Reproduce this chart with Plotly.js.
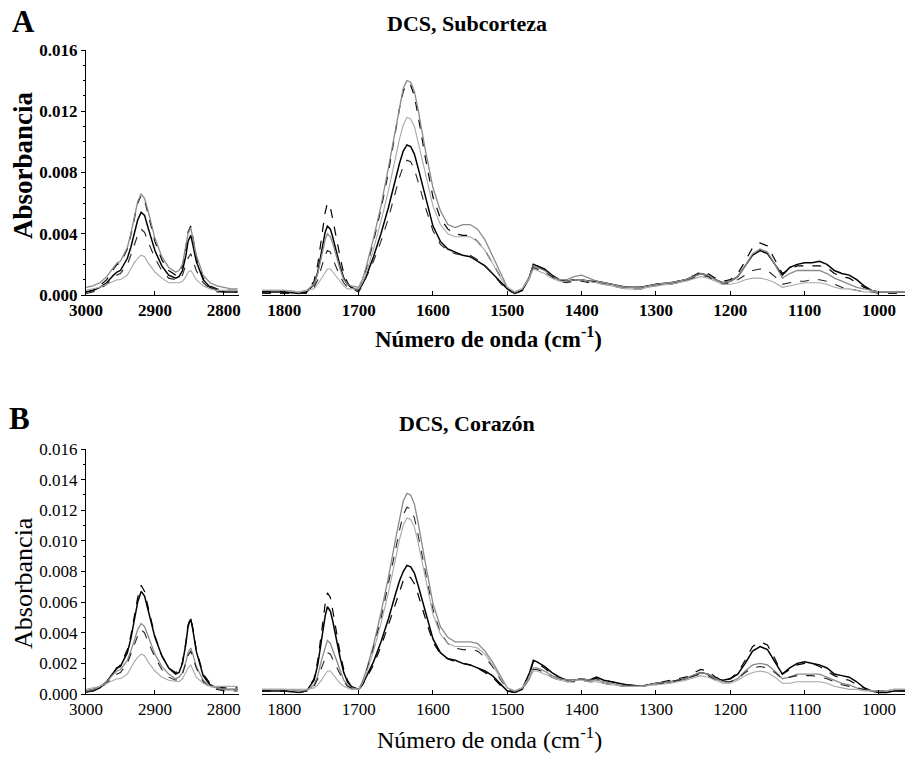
<!DOCTYPE html>
<html>
<head>
<meta charset="utf-8">
<script src="https://cdn.plot.ly/plotly-3.0.1.min.js"></script>
<style>html,body{margin:0;padding:0;background:#fff}#chart{width:905px;height:760px}</style>
</head>
<body>
<div id="chart"></div>
<script>
// Wavenumber grids (cm-1)
const xLeft = [3000,2990,2980,2970,2960,2955,2950,2940,2935,2930,2925,2920,2915,2910,2900,2890,2880,2870,2865,2860,2855,2852,2848,2845,2840,2830,2820,2810,2800,2790,2780];
const xRight = [1830,1800,1780,1770,1760,1755,1750,1745,1742,1738,1735,1730,1725,1720,1715,1710,1700,1695,1690,1680,1670,1660,1650,1645,1640,1635,1630,1625,1620,1610,1600,1590,1580,1570,1560,1550,1540,1530,1520,1510,1500,1490,1480,1470,1465,1460,1450,1440,1430,1420,1410,1400,1390,1380,1370,1360,1340,1320,1300,1280,1260,1240,1230,1220,1210,1200,1190,1180,1170,1160,1150,1140,1130,1120,1110,1100,1090,1080,1070,1060,1050,1040,1030,1020,1010,1000,990,980,965];

// Panel A (DCS, Subcorteza) - C-H stretching region
const aL1 = [.0002,.0003,.0005,.0008,.0013,.0015,.0016,.0024,.0031,.0040,.0049,.0054,.0052,.0044,.0029,.0019,.0013,.0011,.0012,.0016,.0026,.0035,.0039,.0033,.0022,.0010,.0005,.0003,.0002,.0002,.0002];
const aL2 = [.0002,.0003,.0006,.0010,.0017,.0020,.0021,.0030,.0039,.0050,.0060,.0065,.0062,.0053,.0035,.0023,.0016,.0013,.0014,.0019,.0031,.0041,.0045,.0038,.0025,.0011,.0006,.0004,.0003,.0003,.0003];
const aL3 = [.0005,.0006,.0008,.0012,.0018,.0021,.0022,.0031,.0040,.0051,.0061,.0066,.0063,.0055,.0037,.0025,.0018,.0015,.0016,.0020,.0031,.0040,.0044,.0038,.0026,.0013,.0008,.0006,.0005,.0004,.0004];
const aL4 = [.0001,.0002,.0004,.0007,.0011,.0013,.0014,.0020,.0026,.0033,.0039,.0043,.0041,.0035,.0024,.0016,.0011,.0010,.0010,.0013,.0019,.0024,.0027,.0023,.0016,.0008,.0004,.0002,.0002,.0002,.0002];
const aL5 = [.0003,.0004,.0005,.0007,.0009,.0010,.0010,.0013,.0017,.0021,.0024,.0026,.0025,.0021,.0015,.0011,.0008,.0008,.0008,.0009,.0012,.0015,.0016,.0014,.0010,.0006,.0004,.0003,.0003,.0003,.0003];

// Panel A - fingerprint region
const aR1 = [.0002,.0002,.0001,.0002,.0007, .0015,.0028,.0041,.0045,.0043, .0038,.0028,.0019,.0011,.0007, .0005,.0003,.0007,.0012,.0025, .0040,.0057,.0077,.0086,.0094, .0098,.0097,.0092,.0083,.0063, .0045,.0035,.0030,.0028,.0026, .0025,.0022,.0019,.0014,.0009, .0004,.0001,.0003,.0012,.0020, .0019,.0017,.0013,.0010,.0009, .0010,.0010,.0009,.0009,.0008, .0007,.0005,.0005,.0007,.0008, .0010,.0014,.0013,.0010,.0008, .0009,.0012,.0019,.0026,.0029, .0027,.0020,.0013,.0018,.0020, .0021,.0021,.0022,.0020,.0016, .0014,.0013,.0010,.0006,.0003, .0002,.0002,.0002,.0002];
const aR2 = [.0002,.0002,.0001,.0002,.0009, .0020,.0037,.0054,.0060,.0057, .0050,.0037,.0025,.0014,.0008, .0005,.0003,.0009,.0017,.0035, .0056,.0080,.0108,.0122,.0133, .0138,.0137,.0130,.0117,.0089, .0064,.0050,.0043,.0040,.0039, .0039,.0035,.0029,.0021,.0012, .0004,.0001,.0003,.0012,.0020, .0019,.0016,.0012,.0010,.0009, .0010,.0010,.0009,.0008,.0008, .0007,.0005,.0005,.0007,.0008, .0010,.0015,.0014,.0011,.0009, .0010,.0014,.0022,.0031,.0034, .0032,.0023,.0014,.0017,.0019, .0019,.0019,.0019,.0018,.0014, .0012,.0011,.0008,.0005,.0003, .0002,.0002,.0002,.0002];
const aR3 = [.0003,.0003,.0002,.0003,.0007, .0014,.0025,.0036,.0040,.0038, .0034,.0025,.0017,.0010,.0007, .0006,.0005,.0010,.0018,.0037, .0058,.0083,.0110,.0124,.0135, .0140,.0139,.0133,.0121,.0094, .0070,.0055,.0046,.0044,.0046, .0046,.0043,.0036,.0026,.0015, .0005,.0002,.0004,.0012,.0019, .0018,.0016,.0012,.0010,.0010, .0012,.0013,.0011,.0009,.0008, .0007,.0005,.0005,.0007,.0008, .0010,.0014,.0013,.0010,.0008, .0009,.0012,.0019,.0027,.0030, .0028,.0020,.0011,.0014,.0016, .0016,.0016,.0016,.0014,.0011, .0009,.0007,.0005,.0004,.0003, .0002,.0002,.0002,.0002];
const aR4 = [.0001,.0001,.0001,.0001,.0005, .0010,.0018,.0026,.0029,.0028, .0024,.0018,.0012,.0008,.0005, .0004,.0002,.0006,.0011,.0022, .0035,.0050,.0068,.0077,.0084, .0088,.0087,.0082,.0074,.0057, .0042,.0033,.0029,.0027,.0026, .0026,.0023,.0019,.0014,.0008, .0003,.0001,.0003,.0011,.0018, .0017,.0015,.0012,.0009,.0008, .0009,.0009,.0008,.0008,.0007, .0006,.0004,.0004,.0006,.0007, .0009,.0013,.0012,.0009,.0007, .0008,.0010,.0013,.0016,.0017, .0016,.0012,.0007,.0008,.0009, .0009,.0010,.0010,.0009,.0007, .0005,.0004,.0003,.0002,.0002, .0001,.0001,.0001,.0001];
const aR5 = [.0003,.0003,.0002,.0003,.0004, .0007,.0011,.0015,.0017,.0017, .0015,.0012,.0009,.0006,.0004, .0004,.0004,.0008,.0014,.0030, .0048,.0068,.0091,.0102,.0111, .0116,.0115,.0110,.0100,.0078, .0058,.0046,.0040,.0038,.0038, .0038,.0035,.0029,.0021,.0012, .0005,.0002,.0004,.0011,.0017, .0016,.0014,.0011,.0009,.0009, .0010,.0010,.0009,.0008,.0007, .0006,.0004,.0004,.0006,.0007, .0009,.0012,.0011,.0009,.0007, .0007,.0008,.0010,.0011,.0011, .0010,.0008,.0005,.0006,.0007, .0008,.0008,.0008,.0007,.0005, .0004,.0004,.0003,.0002,.0002, .0002,.0002,.0002,.0002];

// Panel B (DCS, Corazon) - C-H stretching region
const bL1 = [.0002,.0002,.0004,.0008,.0014,.0017,.0018,.0027,.0036,.0047,.0060,.0067,.0064,.0055,.0037,.0025,.0017,.0013,.0014,.0020,.0033,.0044,.0049,.0042,.0028,.0012,.0006,.0004,.0003,.0003,.0003];
const bL2 = [.0002,.0003,.0005,.0008,.0014,.0017,.0019,.0029,.0038,.0050,.0063,.0071,.0067,.0057,.0038,.0025,.0017,.0014,.0015,.0021,.0034,.0045,.0050,.0043,.0029,.0013,.0007,.0005,.0004,.0004,.0004];
const bL3 = [.0002,.0003,.0005,.0008,.0013,.0015,.0016,.0022,.0028,.0035,.0042,.0046,.0044,.0038,.0026,.0018,.0013,.0010,.0011,.0014,.0021,.0027,.0030,.0026,.0018,.0009,.0005,.0004,.0003,.0003,.0003];
const bL4 = [.0001,.0002,.0004,.0007,.0011,.0013,.0014,.0020,.0026,.0032,.0038,.0042,.0040,.0034,.0024,.0016,.0011,.0009,.0010,.0013,.0020,.0025,.0028,.0024,.0017,.0008,.0004,.0003,.0002,.0002,.0002];
const bL5 = [.0003,.0004,.0005,.0007,.0009,.0010,.0010,.0013,.0017,.0021,.0024,.0026,.0025,.0021,.0015,.0011,.0009,.0008,.0008,.0010,.0014,.0017,.0019,.0016,.0011,.0007,.0005,.0005,.0005,.0005,.0005];

// Panel B - fingerprint region
const bR1 = [.0002,.0002,.0001,.0002,.0009, .0019,.0035,.0051,.0057,.0054, .0048,.0035,.0024,.0014,.0008, .0005,.0003,.0006,.0011,.0021, .0034,.0049,.0066,.0074,.0080, .0084,.0083,.0079,.0071,.0053, .0036,.0027,.0023,.0022,.0020, .0019,.0017,.0015,.0012,.0007, .0002,.0001,.0003,.0014,.0022, .0021,.0018,.0014,.0011,.0009, .0009,.0010,.0009,.0011,.0009, .0008,.0006,.0005,.0007,.0008, .0010,.0014,.0013,.0010,.0009, .0010,.0013,.0020,.0028,.0031, .0029,.0021,.0013,.0017,.0020, .0021,.0020,.0019,.0017,.0013, .0012,.0011,.0008,.0004,.0002, .0001,.0001,.0002,.0002];
const bR2 = [.0002,.0002,.0001,.0002,.0010, .0022,.0040,.0059,.0066,.0063, .0055,.0040,.0027,.0016,.0009, .0005,.0003,.0006,.0010,.0019, .0031,.0045,.0060,.0068,.0074, .0077,.0076,.0072,.0065,.0049, .0034,.0026,.0023,.0021,.0020, .0019,.0017,.0014,.0011,.0006, .0002,.0001,.0003,.0013,.0021, .0020,.0017,.0013,.0010,.0009, .0009,.0010,.0009,.0010,.0009, .0008,.0006,.0005,.0007,.0009, .0011,.0016,.0015,.0011,.0009, .0010,.0014,.0022,.0031,.0034, .0032,.0023,.0013,.0016,.0019, .0020,.0020,.0018,.0015,.0012, .0010,.0009,.0006,.0004,.0002, .0001,.0001,.0002,.0002];
const bR3 = [.0003,.0003,.0002,.0002,.0006, .0012,.0022,.0031,.0035,.0033, .0029,.0022,.0015,.0009,.0006, .0004,.0003,.0008,.0015,.0032, .0053,.0076,.0102,.0115,.0126, .0131,.0130,.0124,.0112,.0085, .0059,.0044,.0037,.0034,.0034, .0034,.0033,.0028,.0021,.0012, .0004,.0002,.0004,.0011,.0017, .0017,.0015,.0012,.0010,.0009, .0009,.0010,.0009,.0009,.0008, .0007,.0005,.0005,.0007,.0008, .0010,.0014,.0013,.0010,.0008, .0008,.0010,.0015,.0019,.0020, .0019,.0015,.0010,.0011,.0013, .0013,.0013,.0013,.0011,.0009, .0007,.0006,.0004,.0003,.0002, .0002,.0002,.0003,.0003];
const bR4 = [.0002,.0002,.0001,.0002,.0005, .0010,.0017,.0024,.0027,.0026, .0023,.0017,.0012,.0008,.0005, .0004,.0003,.0007,.0014,.0030, .0049,.0071,.0095,.0107,.0117, .0122,.0121,.0115,.0104,.0079, .0055,.0040,.0033,.0030,.0029, .0029,.0028,.0024,.0018,.0010, .0003,.0001,.0003,.0010,.0016, .0016,.0014,.0011,.0009,.0008, .0008,.0009,.0008,.0008,.0007, .0006,.0005,.0005,.0006,.0008, .0010,.0013,.0012,.0009,.0008, .0008,.0010,.0014,.0017,.0018, .0017,.0014,.0010,.0011,.0012, .0012,.0012,.0011,.0010,.0008, .0006,.0005,.0004,.0003,.0002, .0002,.0002,.0002,.0002];
const bR5 = [.0003,.0003,.0003,.0003,.0004, .0006,.0009,.0013,.0015,.0015, .0013,.0010,.0007,.0005,.0004, .0003,.0003,.0007,.0013,.0028, .0046,.0066,.0089,.0101,.0110, .0115,.0114,.0109,.0099,.0075, .0052,.0039,.0033,.0031,.0031, .0031,.0030,.0026,.0019,.0011, .0004,.0002,.0004,.0010,.0015, .0015,.0013,.0011,.0009,.0008, .0009,.0009,.0008,.0008,.0007, .0006,.0005,.0005,.0006,.0007, .0009,.0012,.0011,.0009,.0007, .0007,.0009,.0012,.0014,.0015, .0014,.0011,.0007,.0007,.0008, .0008,.0008,.0008,.0007,.0005, .0004,.0003,.0003,.0002,.0002, .0002,.0002,.0003,.0003];

// Tick labels
const yTicksA = [0, 0.004, 0.008, 0.012, 0.016];
const yTicksB = [0, 0.002, 0.004, 0.006, 0.008, 0.010, 0.012, 0.014, 0.016];
const xTicksLeft = [3000, 2900, 2800];
const xTicksRight = [1800, 1700, 1600, 1500, 1400, 1300, 1200, 1100, 1000];

const styles = [
  {color:'#000000', width:1.5, dash:'solid'},
  {color:'#000000', width:1.2, dash:'dash'},
  {color:'#8a8a8a', width:1.3, dash:'solid'},
  {color:'#222222', width:1.1, dash:'dash'},
  {color:'#a8a8a8', width:1.1, dash:'solid'}
];

const traces = [];
function add(x, ys, xa, ya) {
  ys.forEach((y, i) => traces.push({x: x, y: y, xaxis: xa, yaxis: ya, type: 'scatter', mode: 'lines', line: styles[i], showlegend: false, hoverinfo: 'skip'}));
}
add(xLeft, [aL1, aL2, aL3, aL4, aL5], 'x', 'y');
add(xRight, [aR1, aR2, aR3, aR4, aR5], 'x2', 'y2');
add(xLeft, [bL1, bL2, bL3, bL4, bL5], 'x3', 'y3');
add(xRight, [bR1, bR2, bR3, bR4, bR5], 'x4', 'y4');

const W = 905, H = 760;
const px = v => v / W;
const py = v => 1 - v / H;
const serif = '"Liberation Serif", "Times New Roman", serif';
const fontA = {family: serif, size: 17, color: '#000', weight: 700};
const fontB = {family: serif, size: 17, color: '#000', weight: 400};

const domA = [py(295), py(50)];
const domB = [py(694), py(449)];
const domXL = [px(86), px(239)];
const domXR = [px(262), 1];

function xax(dom, range, ticks, font, anchor) {
  return {domain: dom, range: range, anchor: anchor, tickmode: 'array', tickvals: ticks, ticktext: ticks.map(String),
    showline: true, linecolor: '#000', linewidth: 1, ticks: 'inside', ticklen: 4, tickcolor: '#000',
    showgrid: false, zeroline: false, tickfont: Object.assign({}, font), fixedrange: true};
}
function yaxVis(dom, ticks, font, anchor, minorStep) {
  return {domain: dom, range: [0, 0.016], anchor: anchor, tickmode: 'array', tickvals: ticks, ticktext: ticks.map(v => v.toFixed(3)),
    showline: true, linecolor: '#000', linewidth: 1, ticks: 'outside', ticklen: 4, tickcolor: '#000',
    minor: {tickmode: 'linear', dtick: minorStep, tick0: 0, ticks: 'outside', ticklen: 2, tickcolor: '#000'},
    showgrid: false, zeroline: false, tickfont: Object.assign({}, font), fixedrange: true};
}
function yaxHidden(dom, anchor) {
  return {domain: dom, range: [0, 0.016], anchor: anchor, visible: false, fixedrange: true};
}

const layout = {
  width: W, height: H,
  margin: {l: 0, r: 0, t: 0, b: 0},
  font: {family: serif, color: '#000', size: 17},
  paper_bgcolor: '#fff', plot_bgcolor: 'rgba(0,0,0,0)',
  showlegend: false,
  xaxis: xax(domXL, [3000, 2778], xTicksLeft, fontA, 'y'),
  yaxis: yaxVis(domA, yTicksA, fontA, 'x', 0.001),
  xaxis2: xax(domXR, [1830, 965], xTicksRight, fontA, 'y2'),
  yaxis2: yaxHidden(domA, 'x2'),
  xaxis3: xax(domXL, [3000, 2778], xTicksLeft, fontB, 'y3'),
  yaxis3: yaxVis(domB, yTicksB, fontB, 'x3', 0.001),
  xaxis4: xax(domXR, [1830, 965], xTicksRight, fontB, 'y4'),
  yaxis4: yaxHidden(domB, 'x4'),
  annotations: [
    {text: '<b>A</b>', x: px(10), y: py(22), xref: 'paper', yref: 'paper', xanchor: 'left', yanchor: 'middle', showarrow: false, font: {family: serif, size: 31, color: '#000'}},
    {text: '<b>DCS, Subcorteza</b>', x: px(467), y: py(24), xref: 'paper', yref: 'paper', xanchor: 'center', yanchor: 'middle', showarrow: false, font: {family: serif, size: 22, color: '#000'}},
    {text: '<b>Absorbancia</b>', x: px(23), y: py(165), xref: 'paper', yref: 'paper', xanchor: 'center', yanchor: 'middle', textangle: -90, showarrow: false, font: {family: serif, size: 27, color: '#000'}},
    {text: '<b>Número de onda (cm<sup>-1</sup>)</b>', x: px(488), y: py(337), xref: 'paper', yref: 'paper', xanchor: 'center', yanchor: 'middle', showarrow: false, font: {family: serif, size: 23, color: '#000'}},
    {text: '<b>B</b>', x: px(7), y: py(418), xref: 'paper', yref: 'paper', xanchor: 'left', yanchor: 'middle', showarrow: false, font: {family: serif, size: 31, color: '#000'}},
    {text: '<b>DCS, Corazón</b>', x: px(467), y: py(424), xref: 'paper', yref: 'paper', xanchor: 'center', yanchor: 'middle', showarrow: false, font: {family: serif, size: 22, color: '#000'}},
    {text: 'Absorbancia', x: px(23), y: py(583), xref: 'paper', yref: 'paper', xanchor: 'center', yanchor: 'middle', textangle: -90, showarrow: false, font: {family: serif, size: 26, color: '#000'}},
    {text: 'Número de onda (cm<sup>-1</sup>)', x: px(490), y: py(738), xref: 'paper', yref: 'paper', xanchor: 'center', yanchor: 'middle', showarrow: false, font: {family: serif, size: 24, color: '#000'}}
  ]
};

Plotly.newPlot('chart', traces, layout, {staticPlot: true, displayModeBar: false});
</script>
</body>
</html>
